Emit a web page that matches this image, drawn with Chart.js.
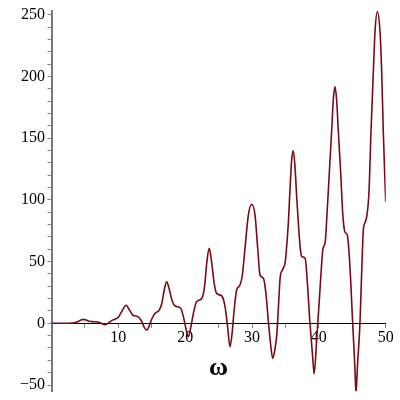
<!DOCTYPE html>
<html lang="en">
<head>
    <meta charset="UTF-8">
    <title>Response vs omega</title>
    <script src="https://cdn.jsdelivr.net/npm/chart.js"></script>
    <style>
        body {
            margin: 0;
            background: #fff;
        }
        #box {
            width: 400px;
            height: 400px;
        }
    </style>
</head>
<body>
    <div id="box"><canvas id="respChart" width="400" height="400"></canvas></div>

    <script>
        // values
        const omega = [
            0, 1, 2, 2.8, 3.4, 4.0, 4.4, 4.76, 5.2, 5.7, 6.3, 6.9, 7.4, 8.0, 8.5, 9.0, 9.5, 10.0, 10.5,
            11.15, 11.7, 12.2, 12.9, 13.4, 13.85, 14.24, 14.6, 15.0, 15.5, 16.1, 16.5, 16.9, 17.23, 17.6,
            18.0, 18.5, 19.3, 19.75, 20.1, 20.47, 20.85, 21.3, 21.7, 22.5, 22.9, 23.25, 23.6, 23.95, 24.35,
            24.7, 25.5, 25.96, 26.35, 26.7, 27.0, 27.35, 27.7, 28.2, 28.55, 28.95, 29.45, 29.95, 30.45,
            30.85, 31.2, 31.7, 32.05, 32.45, 32.8, 33.1, 33.4, 33.7, 34.0, 34.2, 34.55, 34.93, 35.1, 35.43,
            35.68, 35.93, 36.18, 36.43, 36.68, 37.03, 37.28, 37.45, 37.95, 38.18, 38.67, 39.07, 39.3, 39.67,
            40.07, 40.42, 40.6, 40.95, 41.17, 41.56, 41.92, 42.16, 42.41, 42.66, 42.9, 43.27, 43.57, 43.9,
            44.26, 44.66, 45.06, 45.36, 45.56, 45.8, 46.15, 46.4, 46.66, 46.9, 47.16, 47.5, 47.8, 48.15,
            48.4, 48.74, 49.15, 49.4, 49.64, 50
        ];
        const response = [
            0, 0, 0, 0.1, 0.4, 1.5, 2.6, 3.2, 2.6, 1.6, 1.3, 1.0, 0.1, -1.1, 0.2, 2.2, 3.3, 4.9, 9.5,
            14.6, 10.5, 6.5, 5.4, 2.5, -3.0, -5.4, -2.5, 3.5, 8.1, 10.5, 16, 28, 33.7, 28,
            19, 14, 12.4, 5, -4, -10.8, -3, 10, 17.5, 20.3, 30, 50, 60.7, 50, 32,
            24.3, 22, 13.5, -3, -19, -9, 12.2, 27, 31, 39, 60.8, 87.7, 96.4, 87.7,
            60.8, 39, 36.5, 25.6, 1.3, -18, -28.4, -22, -9.5, 18, 36.5, 43.2, 48.6, 56.7, 81,
            108, 132.3, 139.8, 126.9, 102.6, 72.9, 58, 54, 52.6, 40.5, 0, -27, -41, -13.5,
            18.9, 48.6, 60, 66, 83.7, 121.5, 156.6, 180.9, 191.7, 180.9, 156.6, 121.5, 89.1, 74,
            71.5, 45, 0, -32.4, -55.4, -32.4, 0, 40.5, 76, 81.5, 86.4, 106.6, 155.2, 203.8,
            236, 252.4, 236, 203.8, 155.2, 98.5
        ];
        const xTickLabels = [10, 20, 30, 40, 50];
        const yTickLabels = [-50, 0, 50, 100, 150, 200, 250];

        const tickFont = { family: 'Liberation Serif', size: 16 };

        function stepTicks(from, to, step) {
            const out = [];
            for (let v = from; v <= to + 1e-9; v += step) out.push({ value: v });
            return out;
        }

        const points = omega.map((w, i) => ({ x: w, y: response[i] }));

        new Chart(document.getElementById('respChart'), {
            type: 'line',
            data: {
                datasets: [{
                    data: points,
                    borderColor: '#7a0a16',
                    borderWidth: 1.6,
                    pointRadius: 0,
                    fill: false,
                    cubicInterpolationMode: 'monotone'
                }]
            },
            options: {
                responsive: false,
                animation: false,
                events: [],
                layout: {
                    padding: { left: 0, right: 14.3, top: 11, bottom: 8.8 }
                },
                plugins: {
                    legend: { display: false },
                    tooltip: { enabled: false }
                },
                scales: {
                    x: {
                        type: 'linear',
                        position: { y: 0 },
                        min: 0,
                        max: 50,
                        afterBuildTicks: s => { s.ticks = stepTicks(0, 50, 5); },
                        afterFit: s => { s.paddingLeft = 0; s.paddingRight = 0; },
                        ticks: {
                            autoSkip: false,
                            maxRotation: 0,
                            padding: 1,
                            color: '#000',
                            font: tickFont,
                            callback: v => xTickLabels.includes(v) ? String(v) : ''
                        },
                        grid: { drawOnChartArea: false, tickLength: 4, color: '#888' },
                        border: { color: '#000', width: 1 },
                        title: {
                            display: true,
                            text: 'ω',
                            color: '#000',
                            font: { family: 'Liberation Serif', size: 26, weight: 'bold' },
                            padding: { top: 4, bottom: 0 }
                        }
                    },
                    y: {
                        type: 'linear',
                        position: 'left',
                        min: -55,
                        max: 253,
                        afterBuildTicks: s => { s.ticks = stepTicks(-50, 250, 10); },
                        afterFit: s => { s.width = 51.5; s.paddingTop = 0; s.paddingBottom = 0; },
                        ticks: {
                            autoSkip: false,
                            padding: 2.5,
                            color: '#000',
                            font: tickFont,
                            callback: v => yTickLabels.includes(v) ? String(v).replace('-', '\u2212') : ''
                        },
                        grid: { drawOnChartArea: false, tickLength: 4, color: '#888' },
                        border: { color: '#777', width: 2 }
                    }
                }
            }
        });
    </script>
</body>
</html>
